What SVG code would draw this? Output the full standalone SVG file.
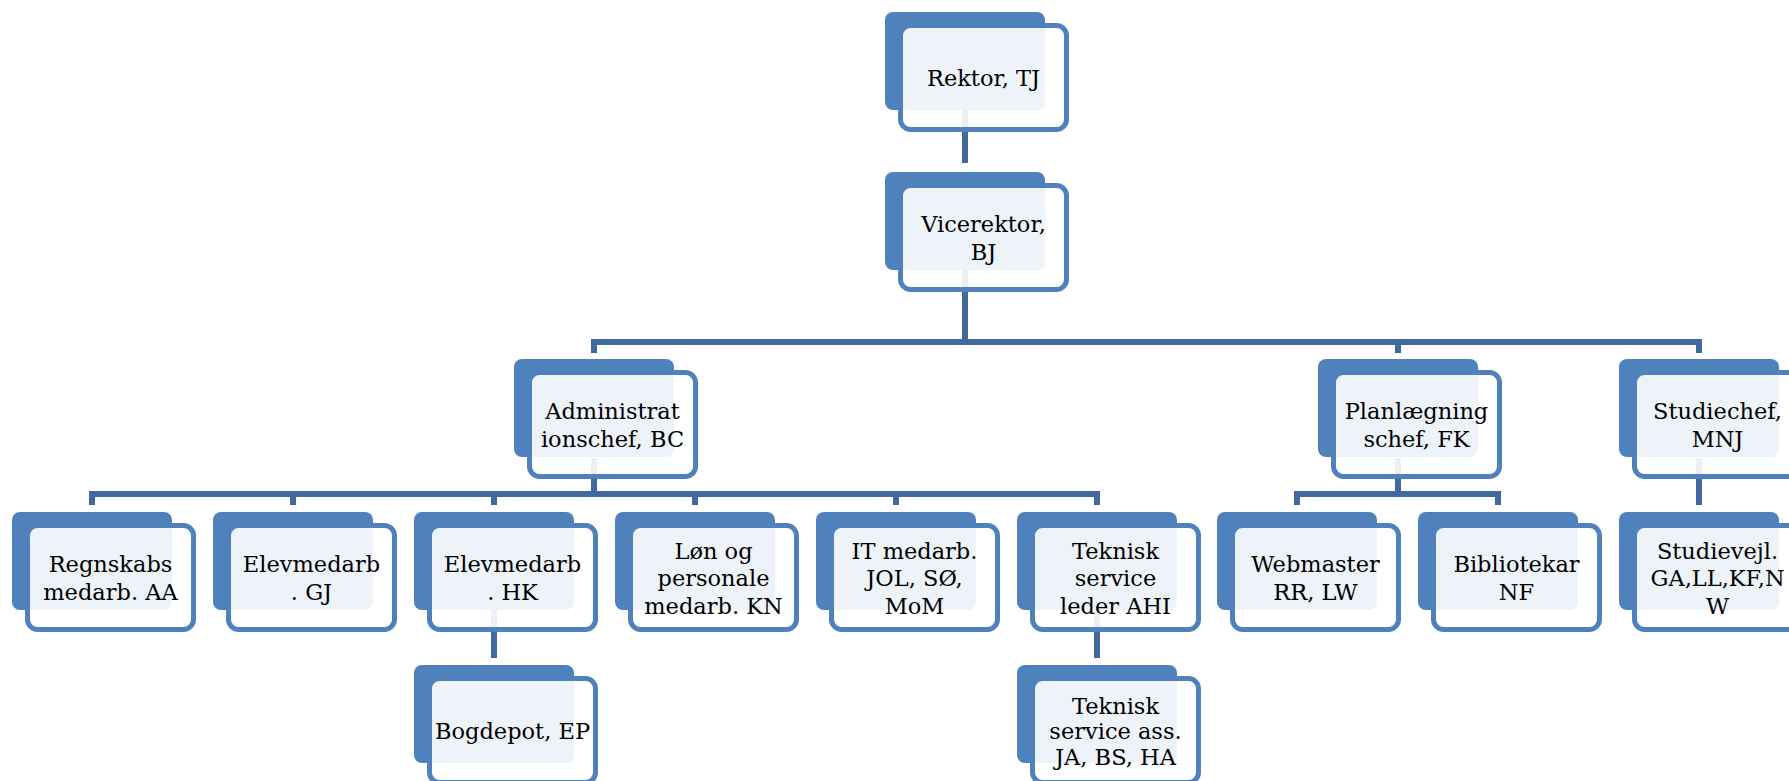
<svg xmlns="http://www.w3.org/2000/svg" width="1789" height="781" viewBox="0 0 1789 781">
<style>
.back{fill:#4F81BD}
.front{fill:#FFFFFF;fill-opacity:0.9;stroke:#4F81BD;stroke-width:5}
.conn{fill:none;stroke:#41699D;stroke-width:6}
.label{font-family:"DejaVu Serif","Liberation Serif",serif;font-size:22.5px;fill:#000;text-anchor:middle}
</style>
<rect width="1789" height="781" fill="#FFFFFF"/>
<g id="connectors">
<path class="conn" d="M965 110 V163"/>
<path class="conn" d="M965 268 V342"/>
<path class="conn" d="M594 353 V342 H1699 V353"/>
<path class="conn" d="M1398 342 V353"/>
<path class="conn" d="M594 458 V494"/>
<path class="conn" d="M92 505 V494 H1097 V505"/>
<path class="conn" d="M293 494 V505 M494 494 V505 M695 494 V505 M896 494 V505"/>
<path class="conn" d="M494 610 V658"/>
<path class="conn" d="M1097 610 V658"/>
<path class="conn" d="M1398 458 V494"/>
<path class="conn" d="M1297 505 V494 H1498 V505"/>
<path class="conn" d="M1699 458 V505"/>
</g>
<g id="rektor" transform="translate(885,12)">
<rect class="back" width="160" height="98" rx="8"/>
<rect class="front" x="15.5" y="13.5" width="166" height="104" rx="10"/>
<text class="label" x="98.5" y="74">Rektor, TJ</text>
</g>
<g id="vicerektor" transform="translate(885,172)">
<rect class="back" width="160" height="98" rx="8"/>
<rect class="front" x="15.5" y="13.5" width="166" height="104" rx="10"/>
<text class="label" x="98.5" y="60.25">Vicerektor,</text>
<text class="label" x="98.5" y="87.75">BJ</text>
</g>
<g id="administrationschef" transform="translate(514,359)">
<rect class="back" width="160" height="98" rx="8"/>
<rect class="front" x="15.5" y="13.5" width="166" height="104" rx="10"/>
<text class="label" x="98.5" y="60.25">Administrat</text>
<text class="label" x="98.5" y="87.75">ionschef, BC</text>
</g>
<g id="planlaegningschef" transform="translate(1318,359)">
<rect class="back" width="160" height="98" rx="8"/>
<rect class="front" x="15.5" y="13.5" width="166" height="104" rx="10"/>
<text class="label" x="98.5" y="60.25">Planlægning</text>
<text class="label" x="98.5" y="87.75">schef, FK</text>
</g>
<g id="studiechef" transform="translate(1619,359)">
<rect class="back" width="160" height="98" rx="8"/>
<rect class="front" x="15.5" y="13.5" width="166" height="104" rx="10"/>
<text class="label" x="98.5" y="60.25">Studiechef,</text>
<text class="label" x="98.5" y="87.75">MNJ</text>
</g>
<g id="regnskabs" transform="translate(12,512)">
<rect class="back" width="160" height="98" rx="8"/>
<rect class="front" x="15.5" y="13.5" width="166" height="104" rx="10"/>
<text class="label" x="98.5" y="60.25">Regnskabs</text>
<text class="label" x="98.5" y="87.75">medarb. AA</text>
</g>
<g id="elevmedarb-gj" transform="translate(213,512)">
<rect class="back" width="160" height="98" rx="8"/>
<rect class="front" x="15.5" y="13.5" width="166" height="104" rx="10"/>
<text class="label" x="98.5" y="60.25">Elevmedarb</text>
<text class="label" x="98.5" y="87.75">. GJ</text>
</g>
<g id="elevmedarb-hk" transform="translate(414,512)">
<rect class="back" width="160" height="98" rx="8"/>
<rect class="front" x="15.5" y="13.5" width="166" height="104" rx="10"/>
<text class="label" x="98.5" y="60.25">Elevmedarb</text>
<text class="label" x="98.5" y="87.75">. HK</text>
</g>
<g id="lon" transform="translate(615,512)">
<rect class="back" width="160" height="98" rx="8"/>
<rect class="front" x="15.5" y="13.5" width="166" height="104" rx="10"/>
<text class="label" x="98.5" y="46.5">Løn og</text>
<text class="label" x="98.5" y="74">personale</text>
<text class="label" x="98.5" y="101.5">medarb. KN</text>
</g>
<g id="it" transform="translate(816,512)">
<rect class="back" width="160" height="98" rx="8"/>
<rect class="front" x="15.5" y="13.5" width="166" height="104" rx="10"/>
<text class="label" x="98.5" y="46.5">IT medarb.</text>
<text class="label" x="98.5" y="74">JOL, SØ,</text>
<text class="label" x="98.5" y="101.5">MoM</text>
</g>
<g id="teknisk-leder" transform="translate(1017,512)">
<rect class="back" width="160" height="98" rx="8"/>
<rect class="front" x="15.5" y="13.5" width="166" height="104" rx="10"/>
<text class="label" x="98.5" y="46.5">Teknisk</text>
<text class="label" x="98.5" y="74">service</text>
<text class="label" x="98.5" y="101.5">leder AHI</text>
</g>
<g id="webmaster" transform="translate(1217,512)">
<rect class="back" width="160" height="98" rx="8"/>
<rect class="front" x="15.5" y="13.5" width="166" height="104" rx="10"/>
<text class="label" x="98.5" y="60.25">Webmaster</text>
<text class="label" x="98.5" y="87.75">RR, LW</text>
</g>
<g id="bibliotekar" transform="translate(1418,512)">
<rect class="back" width="160" height="98" rx="8"/>
<rect class="front" x="15.5" y="13.5" width="166" height="104" rx="10"/>
<text class="label" x="98.5" y="60.25">Bibliotekar</text>
<text class="label" x="98.5" y="87.75">NF</text>
</g>
<g id="studievejl" transform="translate(1619,512)">
<rect class="back" width="160" height="98" rx="8"/>
<rect class="front" x="15.5" y="13.5" width="166" height="104" rx="10"/>
<text class="label" x="98.5" y="46.5">Studievejl.</text>
<text class="label" x="98.5" y="74">GA,LL,KF,N</text>
<text class="label" x="98.5" y="101.5">W</text>
</g>
<g id="bogdepot" transform="translate(414,665)">
<rect class="back" width="160" height="98" rx="8"/>
<rect class="front" x="15.5" y="13.5" width="166" height="104" rx="10"/>
<text class="label" x="98.5" y="74">Bogdepot, EP</text>
</g>
<g id="teknisk-ass" transform="translate(1017,665)">
<rect class="back" width="160" height="98" rx="8"/>
<rect class="front" x="15.5" y="13.5" width="166" height="104" rx="10"/>
<text class="label" x="98.5" y="48.5">Teknisk</text>
<text class="label" x="98.5" y="74">service ass.</text>
<text class="label" x="98.5" y="99.5">JA, BS, HA</text>
</g>
</svg>
